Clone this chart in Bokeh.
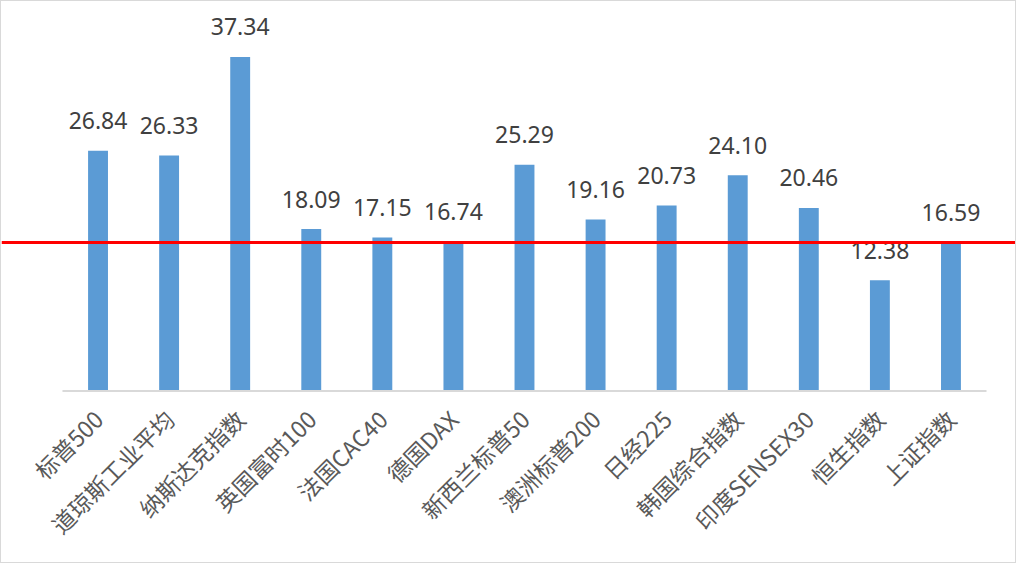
from bokeh.plotting import figure
from bokeh.models import Range1d, FixedTicker, Span, ColumnDataSource
from bokeh.core.properties import value
from bokeh.embed import file_html
from bokeh.resources import INLINE
import math

categories = ["标普500", "道琼斯工业平均", "纳斯达克指数", "英国富时100", "法国CAC40", "德国DAX",
              "新西兰标普50", "澳洲标普200", "日经225", "韩国综合指数", "印度SENSEX30", "恒生指数", "上证指数"]
values = [26.84, 26.33, 37.34, 18.09, 17.15, 16.74, 25.29, 19.16, 20.73, 24.10, 20.46, 12.38, 16.59]
reference_level = 16.59

xs = [i + 0.5 for i in range(len(categories))]
labels = ["%.2f" % v for v in values]
src = ColumnDataSource(dict(x=xs, top=values, label=labels))

p = figure(width=1016, height=563, output_backend="svg", toolbar_location=None,
           x_range=Range1d(-0.858, 13.436), y_range=Range1d(-0.17, 43.53),
           y_axis_location=None, min_border_left=0, min_border_right=0,
           min_border_top=0, min_border_bottom=172)
p.styles = {"border": "1px solid #d9d9d9"}
p.outline_line_color = None
p.background_fill_color = "white"
p.border_fill_color = "white"
p.xgrid.visible = False
p.ygrid.visible = False

p.vbar(x="x", top="top", bottom=0, width=0.28, source=src, fill_color="#5b9bd5", line_color=None)
p.segment(x0=[0], y0=[0], x1=[len(categories)], y1=[0], line_color="#d9d9d9", line_width=2)

p.text(x="x", y="top", text="label", source=src, text_align="center", text_baseline="alphabetic",
       y_offset=-30, text_font=value("Noto Sans"), text_font_size="23px", text_color="#404040")

p.add_layout(Span(location=reference_level, dimension="width", line_color="#ff0000", line_width=3))

ax = p.xaxis[0]
ax.ticker = FixedTicker(ticks=xs)
ax.major_label_overrides = {x: c for x, c in zip(xs, categories)}
ax.major_label_orientation = math.pi / 4
ax.axis_line_color = None
ax.major_tick_line_color = None
ax.minor_tick_line_color = None
ax.major_label_standoff = 16
ax.major_label_text_font = "Noto Sans CJK SC"
ax.major_label_text_font_size = "23px"
ax.major_label_text_color = "#595959"

open("out.html", "w").write(file_html(p, INLINE))
